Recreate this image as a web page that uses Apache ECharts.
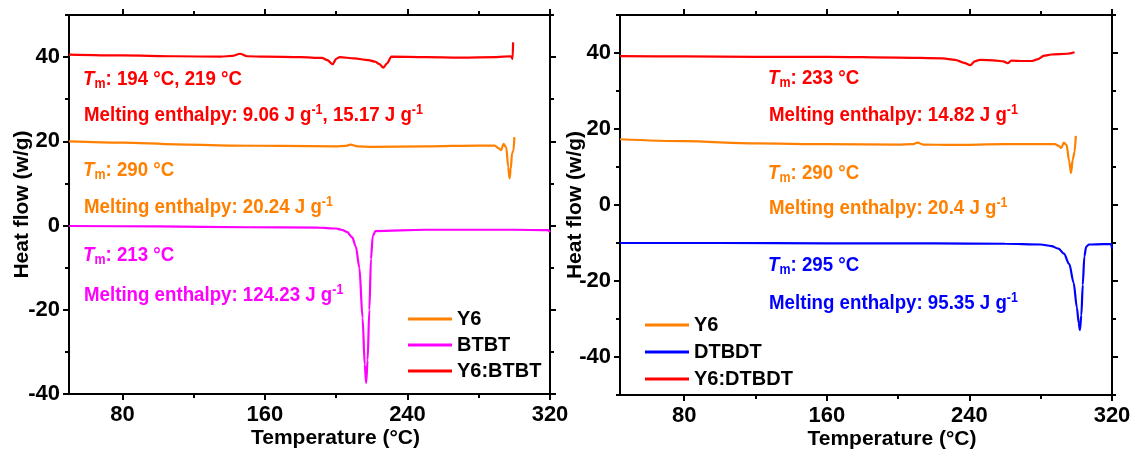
<!DOCTYPE html>
<html>
<head>
<meta charset="utf-8">
<script src="https://cdn.jsdelivr.net/npm/echarts@6/dist/echarts.min.js"></script>
<style>html,body{margin:0;padding:0;background:#fff}#main{width:1132px;height:453px}</style>
</head>
<body>
<div id="main"></div>
<script>
var FONT = '"Liberation Sans", Arial, sans-serif';

// left panel (BTBT)
var y6LeftT = [50, 80, 110, 140, 170, 200, 205, 208, 212, 220, 250, 280, 289, 291, 292.5, 294, 295.5, 296.5, 297.3, 298, 298.7, 299.5, 300];
var y6LeftV = [20.0, 19.7, 19.3, 19.0, 18.9, 18.8, 18.9, 19.2, 18.8, 18.7, 18.8, 19.0, 19.0, 18.4, 17.9, 19.4, 18.5, 14.0, 11.2, 13.5, 17.2, 17.8, 21.0];
var btbtT = [50, 100, 150, 190, 200, 203, 206, 209, 211, 213, 214.8, 216, 216.8, 217.6, 218.6, 219.5, 220.5, 222, 250, 300, 319, 320];
var btbtV = [-0.1, -0.2, -0.4, -0.5, -0.7, -1.0, -1.5, -2.8, -5, -10, -22, -33, -37.4, -32, -20, -8, -2.5, -1.3, -1.0, -1.0, -1.1, -1.6];
var blendLeftT = [50, 80, 110, 135, 142, 146, 150, 160, 180, 192, 195, 198, 200, 202, 210, 218, 222, 224, 226.5, 228.5, 231, 250, 270, 290, 298, 299, 299.3];
var blendLeftV = [40.6, 40.4, 40.2, 40.1, 40.3, 40.8, 40.2, 40.1, 40.0, 39.8, 39.3, 38.3, 39.6, 40.0, 39.7, 39.3, 38.9, 38.4, 37.5, 38.5, 40.1, 40.0, 39.9, 40.0, 40.2, 39.6, 43.5];

// right panel (DTBDT)
var y6RightT = [44, 80, 120, 160, 200, 208, 211, 214, 230, 260, 288, 290, 291.5, 293, 294.5, 296, 297, 298, 299, 299.7];
var y6RightV = [17.3, 16.8, 16.2, 16.0, 15.9, 16.0, 16.4, 15.9, 15.8, 16.0, 16.0, 15.6, 15.0, 16.4, 15.8, 11.5, 8.4, 12.0, 14.0, 18.2];
var dtbdtT = [44, 100, 160, 220, 260, 280, 286, 290, 293, 296, 298.5, 300.3, 301.3, 302, 302.8, 303.6, 304.5, 305.5, 307, 315, 319.5, 320];
var dtbdtV = [-10.0, -10.0, -10.1, -10.1, -10.2, -10.4, -10.8, -11.5, -12.8, -15.5, -20.5, -27, -31, -32.9, -29, -21, -13.5, -11, -10.4, -10.3, -10.3, -11.5];
var blendRightT = [44, 80, 120, 160, 200, 225, 232, 237, 240.5, 243, 246, 255, 259, 261.5, 263.5, 270, 275, 278, 282, 286, 295, 299];
var blendRightV = [39.2, 39.1, 39.0, 39.0, 38.8, 38.6, 38.2, 37.4, 36.8, 37.8, 38.2, 38.0, 37.8, 37.3, 38.0, 37.9, 37.9, 38.3, 39.3, 39.6, 39.8, 40.2];

// ticks
var xMajor = [80, 160, 240, 320];
var xMinor = [120, 200, 280];
var yMajor = [-40, -20, 0, 20, 40];
var yMinorLeft = [-30, -10, 10, 30, 50];
var yMinorRight = [-50, -30, -10, 10, 30, 50];

// annotation texts
var tmLeft = ['194 °C, 219 °C', '290 °C', '213 °C'];
var dhLeft = [['9.06', '15.17'], ['20.24'], ['124.23']];
var tmRight = ['233 °C', '290 °C', '295 °C'];
var dhRight = [['14.82'], ['20.4'], ['95.35']];

var RED = '#ff0000', ORANGE = '#ff8000', MAGENTA = '#ff00ff', BLUE = '#0000ff';

function pairs(xs, ys) {
  return xs.map(function (x, i) { return [x, ys[i]]; });
}

function axis(grid, pos, min, max, ticks, len) {
  return {
    type: 'value', gridIndex: grid, position: pos, min: min, max: max,
    axisLine: { show: true, onZero: false, lineStyle: { color: '#000', width: 2 } },
    axisTick: { show: true, inside: false, length: len, customValues: ticks, lineStyle: { color: '#000', width: 2 } },
    axisLabel: { show: false },
    splitLine: { show: false }
  };
}

var labelStyle = { show: true, fontSize: 22, fontWeight: 'bold', color: '#000', fontFamily: FONT };
var nameStyle = { fontSize: 21, fontWeight: 'bold', color: '#000', fontFamily: FONT };

function mainX(grid, min) {
  var a = axis(grid, 'bottom', min, 320, xMajor, 6);
  a.axisLabel = Object.assign({ customValues: xMajor, margin: 10 }, labelStyle);
  a.name = 'Temperature (°C)';
  a.nameLocation = 'middle';
  a.nameGap = 34;
  a.nameMoveOverlap = false;
  a.nameTextStyle = Object.assign({ padding: [0, 0, 0, 52] }, nameStyle);
  return a;
}
function mainY(grid, min, gap) {
  var a = axis(grid, 'left', min, 50, yMajor, 6);
  a.axisLabel = Object.assign({ customValues: yMajor, margin: 9 }, labelStyle);
  a.name = 'Heat flow (w/g)';
  a.nameLocation = 'middle';
  a.nameGap = gap;
  a.nameMoveOverlap = false;
  a.nameTextStyle = nameStyle;
  return a;
}

var xAxes = [
  mainX(0, 50), axis(0, 'top', 50, 320, xMajor, 6),
  mainX(1, 44), axis(1, 'top', 44, 320, xMajor, 6),
  axis(2, 'bottom', 50, 320, xMinor, 4), axis(2, 'top', 50, 320, xMinor, 4),
  axis(3, 'bottom', 44, 320, xMinor, 4), axis(3, 'top', 44, 320, xMinor, 4)
];
var yAxes = [
  mainY(0, -40, 36), axis(0, 'right', -40, 50, yMajor, 6),
  mainY(1, -50, 34), axis(1, 'right', -50, 50, yMajor, 6),
  axis(2, 'left', -40, 50, yMinorLeft, 4), axis(2, 'right', -40, 50, yMinorLeft, 4),
  axis(3, 'left', -50, 50, yMinorRight, 4), axis(3, 'right', -50, 50, yMinorRight, 4)
];

function line(name, color, xi, data) {
  return {
    name: name, type: 'line', xAxisIndex: xi, yAxisIndex: xi, data: data,
    showSymbol: false, symbol: 'none', smooth: 0.3, smoothMonotone: 'x',
    lineStyle: { color: color, width: 2.2 }, itemStyle: { color: color }
  };
}

var tok = function (size, extra) {
  return Object.assign({ fontSize: size, fontWeight: 'bold', fontFamily: FONT }, extra || {});
};
var rich = {
  t: tok(21, { fontStyle: 'italic', lineHeight: 24 }),
  s: tok(14, { lineHeight: 6, verticalAlign: 'bottom' }),
  n: tok(21, { lineHeight: 24 }),
  p: tok(14, { lineHeight: 12, verticalAlign: 'top' })
};
function tmText(v) { return '{t|T}{s|m}{n|: ' + v + '}'; }
function dhText(vals) {
  return '{n|Melting enthalpy: }' + vals.map(function (v) { return '{n|' + v + ' J g}{p|-1}'; }).join('{n|, }');
}
function note(x, y, color, text) {
  return { type: 'text', x: x, y: y, scaleX: 0.89, z: 10, style: { text: text, rich: rich, fill: color, verticalAlign: 'middle', fontSize: 21, fontWeight: 'bold', fontFamily: FONT } };
}

var colsLeft = [RED, ORANGE, MAGENTA], colsRight = [RED, ORANGE, BLUE];
var tmYLeft = [79, 170, 255], dhYLeft = [115, 207, 295];
var tmYRight = [78, 173, 265], dhYRight = [115, 208, 303];
var graphics = [];
for (var i = 0; i < 3; i++) {
  graphics.push(note(83, tmYLeft[i], colsLeft[i], tmText(tmLeft[i])));
  graphics.push(note(84, dhYLeft[i], colsLeft[i], dhText(dhLeft[i])));
  graphics.push(note(768, tmYRight[i], colsRight[i], tmText(tmRight[i])));
  graphics.push(note(769, dhYRight[i], colsRight[i], dhText(dhRight[i])));
}

var legendText = { fontSize: 20, fontWeight: 'bold', color: '#000', fontFamily: FONT, lineHeight: 20 };

var chart = echarts.init(document.getElementById('main'));
chart.setOption({
  animation: false,
  backgroundColor: '#fff',
  grid: [
    { left: 69, top: 15, width: 481, height: 379, outerBoundsMode: 'none' },
    { left: 620, top: 15, width: 492, height: 380, outerBoundsMode: 'none' },
    { left: 69, top: 15, width: 481, height: 379, outerBoundsMode: 'none' },
    { left: 620, top: 15, width: 492, height: 380, outerBoundsMode: 'none' }
  ],
  xAxis: xAxes,
  yAxis: yAxes,
  legend: [
    { data: ['Y6', 'BTBT', 'Y6:BTBT'], orient: 'vertical', left: 403, top: 304, icon: 'rect', itemWidth: 44, itemHeight: 3, itemGap: 6, textStyle: legendText, selectedMode: false },
    { data: ['Y6', 'DTBDT', 'Y6:DTBDT'], orient: 'vertical', left: 640, top: 310, icon: 'rect', itemWidth: 44, itemHeight: 3, itemGap: 7, textStyle: legendText, selectedMode: false }
  ],
  graphic: graphics,
  series: [
    line('Y6', ORANGE, 0, pairs(y6LeftT, y6LeftV)),
    line('BTBT', MAGENTA, 0, pairs(btbtT, btbtV)),
    line('Y6:BTBT', RED, 0, pairs(blendLeftT, blendLeftV)),
    line('Y6', ORANGE, 2, pairs(y6RightT, y6RightV)),
    line('DTBDT', BLUE, 2, pairs(dtbdtT, dtbdtV)),
    line('Y6:DTBDT', RED, 2, pairs(blendRightT, blendRightV))
  ]
});
</script>
</body>
</html>
